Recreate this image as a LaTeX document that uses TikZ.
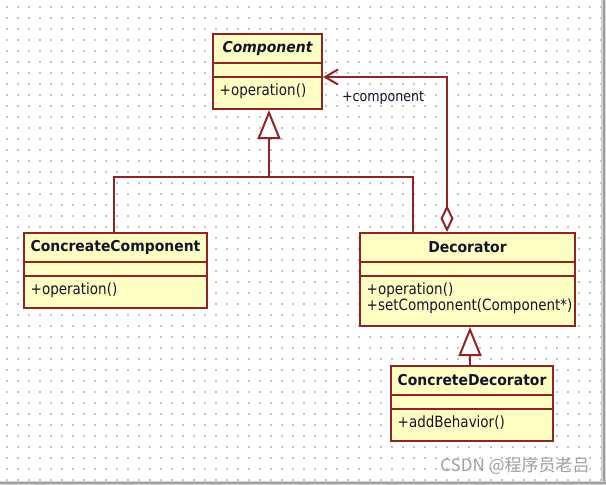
\documentclass[tikz,border=0pt]{standalone}
\usepackage{fontspec}
\usetikzlibrary{arrows.meta}
\newfontfamily\umlr[FakeStretch=0.87]{DejaVu Sans}
\newfontfamily\umlb[FakeStretch=0.93]{DejaVu Sans}
\newfontfamily\cjk{Noto Sans CJK SC}
\definecolor{linec}{RGB}{145,35,35}
\definecolor{fillc}{RGB}{255,255,196}
\definecolor{dotc}{RGB}{196,196,196}
\definecolor{wmc}{RGB}{160,160,160}
\definecolor{txtc}{RGB}{20,20,40}
\tikzset{
  cls/.style={draw=linec, fill=fillc, line width=2pt, rectangle, inner sep=0pt, anchor=north west},
  divl/.style={draw=linec, line width=2pt},
  conn/.style={draw=linec, line width=2pt},
  ttl/.style={inner sep=0pt, text=txtc, font=\umlb\bfseries\fontsize{15}{17}\selectfont},
  opx/.style={inner sep=0pt, anchor=west, text=txtc, font=\umlr\fontsize{15.5}{17}\selectfont},
  gen/.style={-{Triangle[open, fill=white, length=29pt, width=23pt]}},
}
\begin{document}
\begin{tikzpicture}[x=1pt, y=-1pt]
\useasboundingbox (0,0) rectangle (606,485);
\fill[white] (0,0) rectangle (606,485);
% dot grid
\foreach \i in {0,...,54}{
  \foreach \j in {0,...,43}{
    \fill[dotc] ({7+11*\i-0.65},{7+11*\j-0.65}) rectangle ++(1.3,1.3);
  }
}
% shadow frame
\fill[gray!35] (601,0) rectangle (606,485);
\fill[gray!75] (602.5,0) rectangle (604.5,485);
\fill[gray!35] (0,481) rectangle (606,485);
\fill[gray!75] (0,482.3) rectangle (606,484.3);

% classes
\node[cls, minimum width=109pt, minimum height=75pt] (comp) at (212,33) {};
\node[cls, minimum width=183pt, minimum height=75pt] (cc) at (23,232) {};
\node[cls, minimum width=215pt, minimum height=93pt] (dec) at (359,232) {};
\node[cls, minimum width=162pt, minimum height=75pt] (cd) at (390,365) {};

\foreach \n in {comp,cc,dec,cd}{
  \draw[divl] ([yshift=-30pt]\n.north west) -- ([yshift=-30pt]\n.north east);
  \draw[divl] ([yshift=-44pt]\n.north west) -- ([yshift=-44pt]\n.north east);
}

% titles
\node[ttl, font=\umlb\bfseries\itshape\fontsize{15}{17}\selectfont] (compt) at ([yshift=-15pt]comp.north) {Component};
\node[ttl] (cct) at ([yshift=-15pt]cc.north) {ConcreateComponent};
\node[ttl] (dect) at ([yshift=-15pt]dec.north) {Decorator};
\node[ttl] (cdt) at ([yshift=-15pt]cd.north) {ConcreteDecorator};

% operations
\node[opx] (compo) at ([xshift=7.5pt,yshift=-58pt]comp.north west) {+operation()};
\node[opx] (cco) at ([xshift=7.5pt,yshift=-58pt]cc.north west) {+operation()};
\node[opx] (deco1) at ([xshift=7.5pt,yshift=-58pt]dec.north west) {+operation()};
\node[opx] (deco2) at ([xshift=7.5pt,yshift=-74pt]dec.north west) {+setComponent(Component*)};
\node[opx] (cdo) at ([xshift=7.5pt,yshift=-58pt]cd.north west) {+addBehavior()};

% generalization to Component
\coordinate (compbot) at ([xshift=1.5pt]comp.south);
\coordinate (junc) at (compbot |- 0,177);
\draw[conn] ([xshift=-1.5pt]cc.north) |- (junc);
\draw[conn] ([xshift=-54.5pt]dec.north) |- (junc);
\draw[conn, gen] (junc) -- (compbot);

% generalization ConcreteDecorator -> Decorator
\coordinate (cdtop) at ([xshift=-2pt]cd.north);
\draw[conn, gen] (cdtop) -- (cdtop |- dec.south);

% aggregation Decorator -> Component
\coordinate (aggtgt) at ([yshift=-44pt]comp.north east);
\draw[conn, {Diamond[open, fill=white, length=27pt, width=13pt]}-{Straight Barb[length=13pt, width=15pt]}]
  ([xshift=-20.5pt]dec.north) |- (aggtgt);
\node[opx, anchor=center, font=\umlr\fontsize{14.5}{16}\selectfont] (rolel) at (383,98) {+component};

% watermark
\node[inner sep=0pt, text=wmc, font=\cjk\fontsize{17}{19}\selectfont] (wm) at (515,466) {CSDN @程序员老吕};
\end{tikzpicture}
\end{document}
